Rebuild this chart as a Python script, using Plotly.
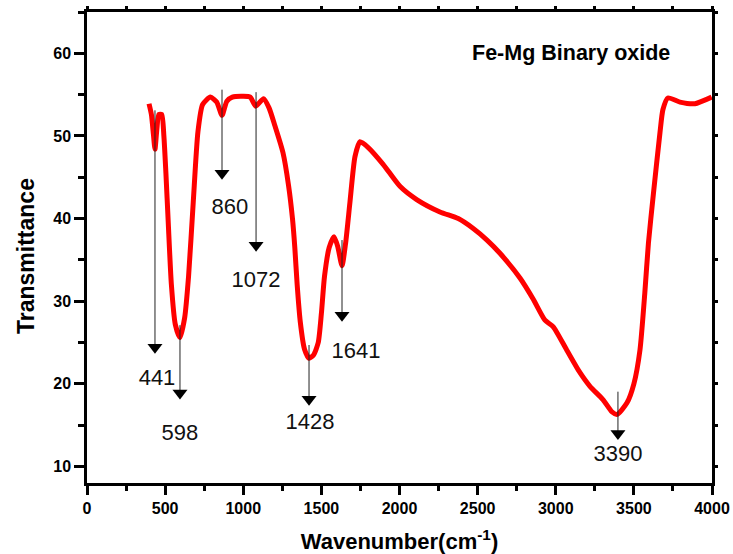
import plotly.graph_objects as go

# FTIR spectrum
wavenumber = [397, 412, 425, 435, 447, 460, 478, 492, 505, 520, 540, 565, 595, 625, 650, 680, 710,
              740, 790, 830, 864, 895, 930, 1000, 1045, 1080, 1130, 1165, 1200, 1254, 1290, 1315,
              1330, 1345, 1365, 1392, 1421, 1450, 1480, 1500, 1520, 1550, 1581, 1605, 1632, 1655,
              1683, 1715, 1747, 1800, 1894, 2003, 2110, 2259, 2376, 2472, 2560, 2643, 2771, 2857,
              2931, 2984, 3070, 3150, 3219, 3302, 3360, 3392, 3456, 3500, 3539, 3570, 3593, 3625,
              3667, 3686, 3718, 3795, 3891, 3998]
transmittance = [53.9, 52.6, 50.2, 48.4, 50.8, 52.6, 52.6, 50.0, 45.5, 39.5, 32.0, 27.2, 25.6, 28.0,
                 33.0, 42.0, 50.5, 53.8, 54.7, 54.1, 52.5, 54.2, 54.7, 54.8, 54.7, 53.6, 54.5, 53.4,
                 51.4, 48.0, 44.0, 40.0, 36.5, 32.0, 27.5, 24.2, 23.1, 23.5, 25.0, 28.5, 33.0, 36.5,
                 37.8, 36.6, 34.3, 37.0, 42.0, 47.5, 49.3, 48.6, 46.6, 43.9, 42.3, 40.8, 40.0, 38.8,
                 37.4, 35.8, 32.8, 30.2, 27.7, 26.9, 24.1, 21.5, 19.7, 18.1, 16.6, 16.3, 17.7, 20.0,
                 24.1, 31.0, 37.0, 43.0, 50.4, 53.2, 54.6, 54.1, 53.9, 54.7]

# peak annotations
peak_labels = ["441", "598", "860", "1072", "1428", "1641", "3390"]
arrow_x = [435, 595, 864, 1082, 1421, 1632, 3398]
arrow_top = [53.1, 27.1, 55.6, 55.3, 24.7, 37.4, 19.05]
arrow_tip = [23.65, 18.1, 44.7, 36.0, 17.35, 27.5, 13.2]
label_x = [448, 595, 915, 1082, 1427, 1722, 3398]
label_y = [20.5, 13.85, 41.2, 32.4, 15.2, 23.8, 11.3]

FONT = "Arial, Liberation Sans, sans-serif"
W, H = 733, 554
M = dict(l=87, r=21, t=12, b=71)
Y_RANGE = [8, 65]
X_RANGE = [0, 4000]
PW, PH = W - M["l"] - M["r"], H - M["t"] - M["b"]
px_per_unit = PH / (Y_RANGE[1] - Y_RANGE[0])
HEAD = 13  # triangle marker size in px
head_offset = (HEAD / 2) / px_per_unit  # so the triangle tip sits on the arrow tip

fig = go.Figure()
fig.add_trace(go.Scatter(x=wavenumber, y=transmittance, mode="lines",
                         line=dict(color="#ff0000", width=5, shape="spline", smoothing=0.6),
                         showlegend=False, hoverinfo="skip"))

# arrows: shaft lines + triangle heads
for ax_, top, tip in zip(arrow_x, arrow_top, arrow_tip):
    fig.add_trace(go.Scatter(x=[ax_, ax_], y=[top, tip + head_offset], mode="lines",
                             line=dict(color="#222222", width=1),
                             showlegend=False, hoverinfo="skip"))
fig.add_trace(go.Scatter(x=arrow_x, y=[t + head_offset for t in arrow_tip], mode="markers",
                         marker=dict(symbol="triangle-down", size=HEAD, color="black",
                                     line=dict(width=0)),
                         showlegend=False, hoverinfo="skip"))
# peak labels
fig.add_trace(go.Scatter(x=label_x, y=label_y, mode="text", text=peak_labels,
                         textfont=dict(family=FONT, size=22, color="#111111"),
                         showlegend=False, hoverinfo="skip"))

# invisible trace so the mirror-tick (top/right) axes are drawn
fig.add_trace(go.Scatter(x=[None], y=[None], xaxis="x2", yaxis="y2", showlegend=False,
                         hoverinfo="skip"))

axis_common = dict(showgrid=False, zeroline=False, linecolor="black", linewidth=2.5,
                   tickcolor="black", tickwidth=2.5, automargin=False)

fig.update_layout(
    width=W, height=H,
    margin=M,
    paper_bgcolor="white", plot_bgcolor="white",
    font=dict(family=FONT, color="black"),
    xaxis=dict(range=X_RANGE, dtick=500, ticks="outside", ticklen=9,
               tickfont=dict(family=FONT, size=16, color="black", weight="bold"),
               ticklabelstandoff=0,
               tickformat="d",
               minor=dict(dtick=250, ticks="outside", ticklen=5, tickwidth=2.5, tickcolor="black"),
               title=dict(text="<b>Wavenumber(cm<sup>-1</sup>)</b>", font=dict(family=FONT, size=22),
                          standoff=26),
               **axis_common),
    yaxis=dict(range=Y_RANGE, dtick=10, tick0=0, ticks="outside", ticklen=10,
               tickfont=dict(family=FONT, size=16, color="black", weight="bold"),
               minor=dict(dtick=5, ticks="outside", ticklen=6, tickwidth=2.5, tickcolor="black"),
               **axis_common),
    xaxis2=dict(range=X_RANGE, overlaying="x", side="top", anchor="y", dtick=250,
                ticks="outside", ticklen=3, showticklabels=False, **axis_common),
    yaxis2=dict(range=Y_RANGE, overlaying="y", side="right", anchor="x", dtick=5, tick0=0,
                ticks="outside", ticklen=3, showticklabels=False, **axis_common),
    annotations=[
        dict(x=3095, y=60.0, xref="x", yref="y", text="<b>Fe-Mg Binary oxide</b>",
             showarrow=False, font=dict(family=FONT, size=21.5, color="black")),
        dict(x=(26 - M["l"]) / PW, y=(H - M["b"] - 256) / PH, xref="paper", yref="paper",
             xanchor="center", yanchor="middle", text="<b>Transmittance</b>",
             showarrow=False, textangle=-90, font=dict(family=FONT, size=23, color="black")),
    ],
)

fig.write_html("out.html")
